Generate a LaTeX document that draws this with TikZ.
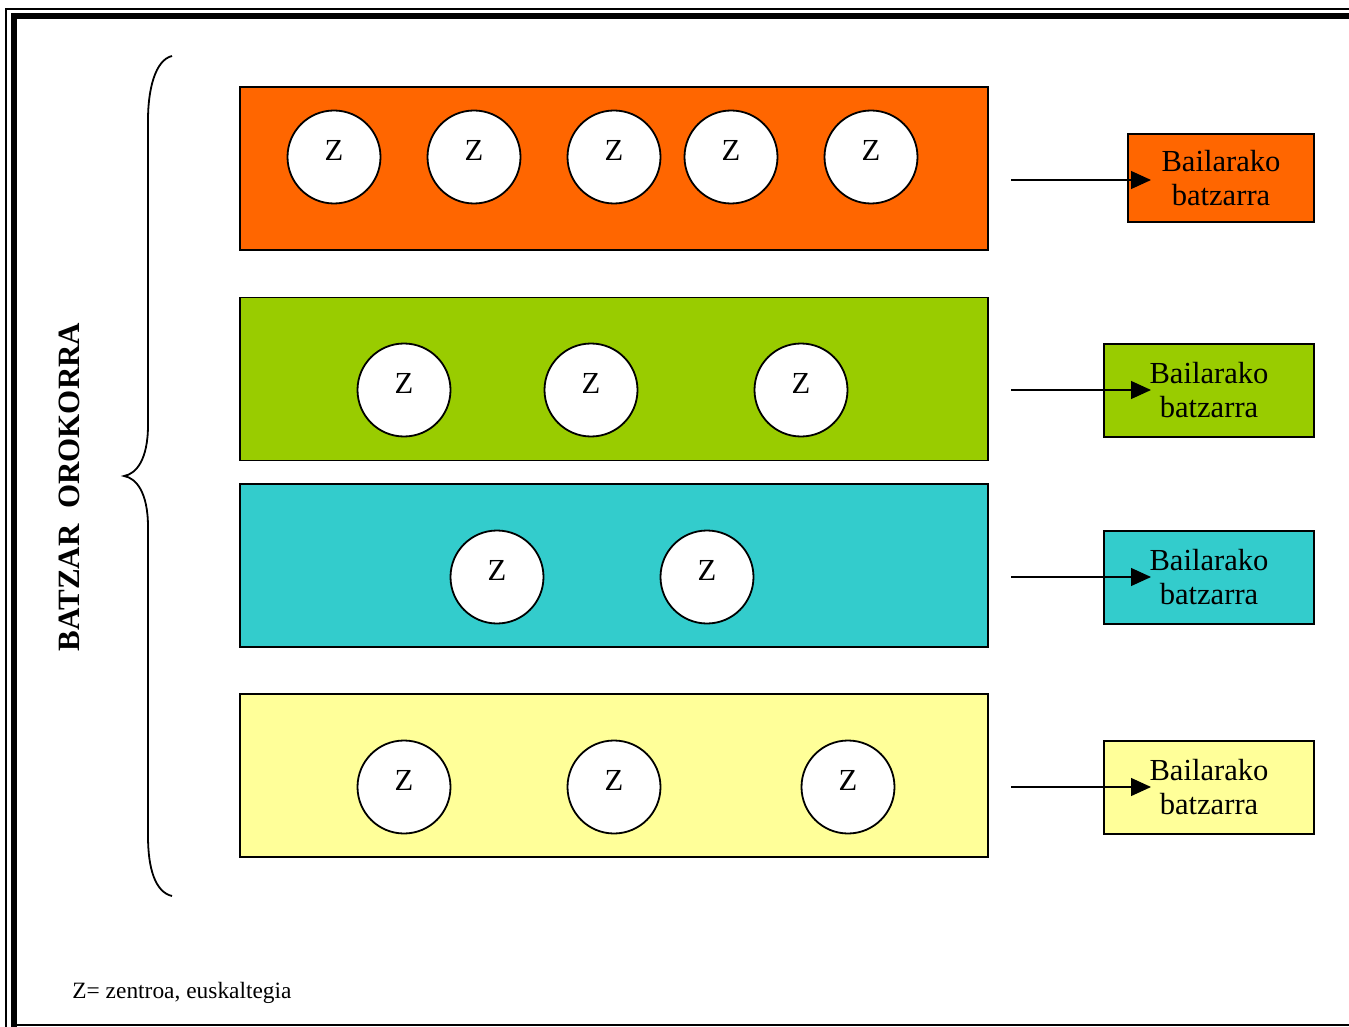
\documentclass[tikz,border=0pt]{standalone}
\usepackage{fontspec}
\setmainfont{Liberation Serif}
\usetikzlibrary{arrows.meta}
\definecolor{zorange}{HTML}{FF6600}
\definecolor{zgreen}{HTML}{99CC00}
\definecolor{zcyan}{HTML}{33CCCC}
\definecolor{zyellow}{HTML}{FFFF99}
\tikzset{
zone/.style={
	  draw, rectangle, line width=0.7pt, inner sep=0pt,
	    minimum width=374pt, minimum height=81.5pt},
centre/.style={
	  draw, circle, fill=white, line width=0.9pt, inner sep=0pt,
	    minimum size=46.5pt, text depth=7pt},
batzbox/.style={
	  draw, rectangle, line width=0.7pt, align=center, inner sep=0pt,
	    minimum width=105pt, minimum height=46.5pt},
tobatz/.style={-{Triangle[length=10pt,width=9pt]}, line width=0.6pt}
}
\newcommand{\zfont}{\fontsize{15.3}{17}\selectfont}

\begin{document}
\begin{tikzpicture}[x=0.5pt, y=-0.5pt, font=\zfont]
	\useasboundingbox (0,0) rectangle (1349,1027);
	% page border
	\draw[line width=1pt] (1360,9) -- (6,9) -- (6,1040);
	\draw[line width=3pt] (1360,16) -- (14,16) -- (14,1040);
	\draw[line width=1pt] (14,1025) -- (1360,1025);
	% brace and title
	\draw[line width=0.9pt] (172,56) .. controls (155,60) and (148,90) .. (148,120)
		-- (148,425) .. controls (148,460) and (136,474) .. (124,476)
		.. controls (136,478) and (148,492) .. (148,527)
		-- (148,836) .. controls (148,868) and (155,892) .. (172,896);
	\node[rotate=90, font=\fontsize{15.5}{17}\selectfont\bfseries] (title) at (69,487) {BATZAR\ \ OROKORRA};
	% zones
	\node[zone, fill=zorange] (r1) at (614,168.5) {};
	\node[zone, fill=zgreen] (r2) at (614,379) {};
	\node[zone, fill=zcyan] (r3) at (614,565.5) {};
	\node[zone, fill=zyellow] (r4) at (614,775.5) {};
	% centres
	\node[centre] (z11) at (334,157) {Z};
	\node[centre] (z12) at (474,157) {Z};
	\node[centre] (z13) at (614,157) {Z};
	\node[centre] (z14) at (731,157) {Z};
	\node[centre] (z15) at (871,157) {Z};
	\node[centre] (z21) at (404,390) {Z};
	\node[centre] (z22) at (591,390) {Z};
	\node[centre] (z23) at (801,390) {Z};
	\node[centre] (z31) at (497,577) {Z};
	\node[centre] (z32) at (707,577) {Z};
	\node[centre] (z41) at (404,787) {Z};
	\node[centre] (z42) at (614,787) {Z};
	\node[centre] (z43) at (848,787) {Z};
	% valley assemblies
	\node[batzbox, fill=zorange, minimum width=93pt, minimum height=44pt] (b1) at (1221,178) {Bailarako\\batzarra};
	\node[batzbox, fill=zgreen] (b2) at (1209,390.5) {Bailarako\\batzarra};
	\node[batzbox, fill=zcyan] (b3) at (1209,577.5) {Bailarako\\batzarra};
	\node[batzbox, fill=zyellow] (b4) at (1209,787.5) {Bailarako\\batzarra};
	% arrows
	\coordinate (s1) at (1011,180); \coordinate (t1) at (1151,180);
	\coordinate (s2) at (1011,390); \coordinate (t2) at (1151,390);
	\coordinate (s3) at (1011,577); \coordinate (t3) at (1151,577);
	\coordinate (s4) at (1011,787); \coordinate (t4) at (1151,787);
	\draw[tobatz] (s1) -- (t1);
	\draw[tobatz] (s2) -- (t2);
	\draw[tobatz] (s3) -- (t3);
	\draw[tobatz] (s4) -- (t4);
	% legend
	\node[anchor=base west, inner sep=0pt, font=\fontsize{11.7}{14}\selectfont] (legend) at (72,998) {Z= zentroa, euskaltegia};
\end{tikzpicture}
\end{document}
